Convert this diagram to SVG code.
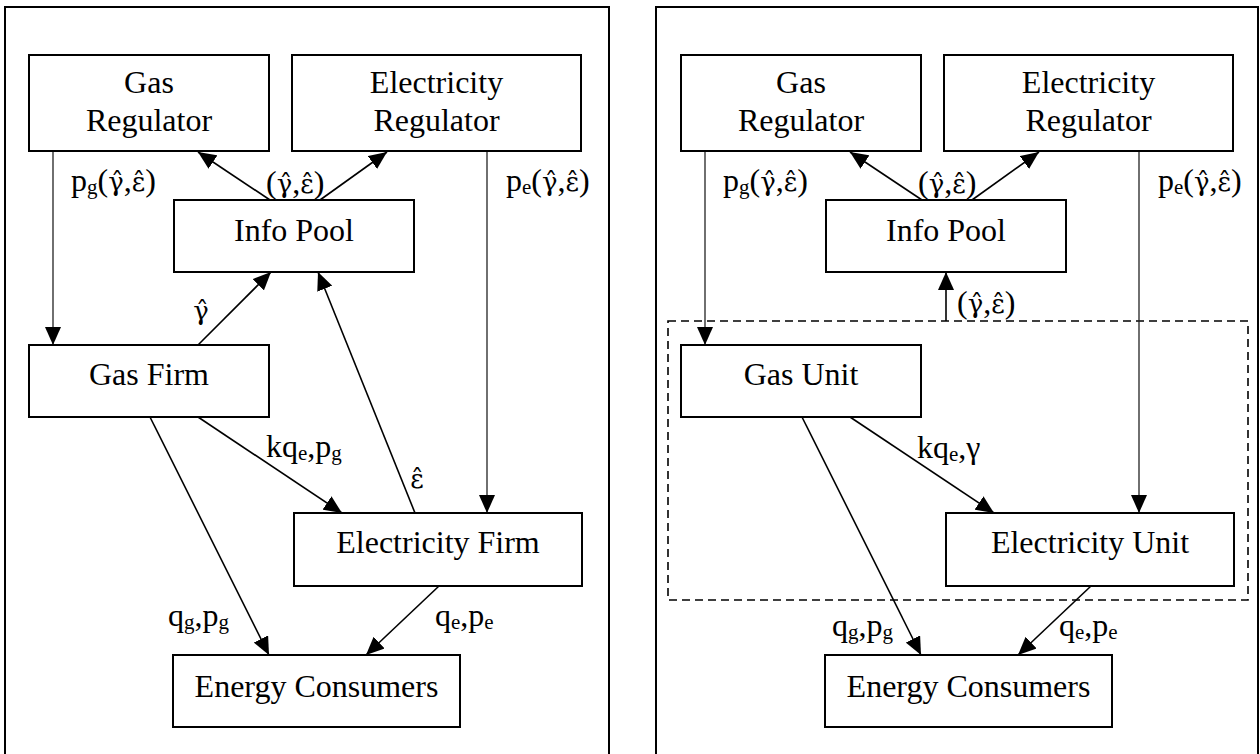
<svg xmlns="http://www.w3.org/2000/svg" width="1260" height="754" viewBox="0 0 1260 754">
<defs>
<marker id="arr" markerUnits="userSpaceOnUse" markerWidth="18" markerHeight="16" refX="18" refY="8" orient="auto">
<path d="M0,0 L18,8 L0,16 z" fill="#000"/>
</marker>
<style>
.panel{fill:none;stroke:#000;stroke-width:2}
.box{fill:#fff;stroke:#000;stroke-width:2}
.dash{fill:none;stroke:#000;stroke-width:1.6;stroke-dasharray:8 5}
.edge{fill:none;stroke:#000;stroke-width:1.6;marker-end:url(#arr)}
.vline{fill:none;stroke:#222;stroke-width:1.3;marker-end:url(#arr)}
text{font-family:"Liberation Serif","Times New Roman",serif;font-size:32px;fill:#000}
.c{text-anchor:middle}
.sub{font-size:21px}
.h{font-family:"DejaVu Serif",serif;font-size:26px}
</style>
</defs>
<rect class="panel" x="5" y="7" width="604" height="770"/>
<rect class="panel" x="656" y="7" width="602" height="770"/>
<rect id="unit-boundary" class="dash" x="668" y="321" width="580" height="279"/>

<g id="connectors">
<path class="vline" d="M53,151 L53,345"/>
<path class="edge" d="M270,200 L198,152"/>
<path class="edge" d="M320,200 L387,152"/>
<path class="vline" d="M487,151 L487,513"/>
<path class="edge" d="M198,345 L271,272"/>
<path class="edge" d="M415,513 L318,272"/>
<path class="edge" d="M198,417 L342,513"/>
<path class="edge" d="M150,417 L269,655"/>
<path class="edge" d="M439,586 L366,655"/>

<path class="vline" d="M705,151 L705,345"/>
<path class="edge" d="M922,200 L850,152"/>
<path class="edge" d="M972,200 L1039,152"/>
<path class="vline" d="M1139,151 L1139,513"/>
<path class="edge" d="M946,321 L946,272"/>
<path class="edge" d="M850,417 L994,513"/>
<path class="edge" d="M802,417 L921,655"/>
<path class="edge" d="M1091,586 L1018,655"/>

<text x="71" y="191">p<tspan class="sub" dy="3">g</tspan><tspan dy="-3">(</tspan><tspan class="h">γ̂</tspan>,<tspan class="h">ε̂</tspan>)</text>
<text x="266" y="193">(<tspan class="h">γ̂</tspan>,<tspan class="h">ε̂</tspan>)</text>
<text x="506" y="191">p<tspan class="sub" dy="3">e</tspan><tspan dy="-3">(</tspan><tspan class="h">γ̂</tspan>,<tspan class="h">ε̂</tspan>)</text>
<text class="c h" x="201" y="320">γ̂</text>
<text class="c h" x="417" y="488">ε̂</text>
<text x="266" y="457">kq<tspan class="sub" dy="3">e</tspan><tspan dy="-3">,p</tspan><tspan class="sub" dy="3">g</tspan></text>
<text x="168" y="626">q<tspan class="sub" dy="3">g</tspan><tspan dy="-3">,p</tspan><tspan class="sub" dy="3">g</tspan></text>
<text x="435" y="626">q<tspan class="sub" dy="3">e</tspan><tspan dy="-3">,p</tspan><tspan class="sub" dy="3">e</tspan></text>

<text x="723" y="191">p<tspan class="sub" dy="3">g</tspan><tspan dy="-3">(</tspan><tspan class="h">γ̂</tspan>,<tspan class="h">ε̂</tspan>)</text>
<text x="918" y="193">(<tspan class="h">γ̂</tspan>,<tspan class="h">ε̂</tspan>)</text>
<text x="1158" y="191">p<tspan class="sub" dy="3">e</tspan><tspan dy="-3">(</tspan><tspan class="h">γ̂</tspan>,<tspan class="h">ε̂</tspan>)</text>
<text x="957" y="313">(<tspan class="h">γ̂</tspan>,<tspan class="h">ε̂</tspan>)</text>
<text x="917" y="458">kq<tspan class="sub" dy="3">e</tspan><tspan dy="-3">,γ</tspan></text>
<text x="832" y="636">q<tspan class="sub" dy="3">g</tspan><tspan dy="-3">,p</tspan><tspan class="sub" dy="3">g</tspan></text>
<text x="1059" y="636">q<tspan class="sub" dy="3">e</tspan><tspan dy="-3">,p</tspan><tspan class="sub" dy="3">e</tspan></text>
</g>

<g id="gas-regulator-1"><rect class="box" x="29" y="55" width="240" height="96"/><text class="c" x="149" y="93">Gas</text><text class="c" x="149" y="131">Regulator</text></g>
<g id="electricity-regulator-1"><rect class="box" x="292" y="55" width="289" height="96"/><text class="c" x="436.5" y="93">Electricity</text><text class="c" x="436.5" y="131">Regulator</text></g>
<g id="info-pool-1"><rect class="box" x="174" y="200" width="240" height="72"/><text class="c" x="294" y="241">Info Pool</text></g>
<g id="gas-firm"><rect class="box" x="29" y="345" width="240" height="72"/><text class="c" x="149" y="385">Gas Firm</text></g>
<g id="electricity-firm"><rect class="box" x="294" y="513" width="288" height="73"/><text class="c" x="438" y="553">Electricity Firm</text></g>
<g id="energy-consumers-1"><rect class="box" x="173" y="655" width="287" height="72"/><text class="c" x="316.5" y="697">Energy Consumers</text></g>

<g id="gas-regulator-2"><rect class="box" x="681" y="55" width="240" height="96"/><text class="c" x="801" y="93">Gas</text><text class="c" x="801" y="131">Regulator</text></g>
<g id="electricity-regulator-2"><rect class="box" x="944" y="55" width="289" height="96"/><text class="c" x="1088.5" y="93">Electricity</text><text class="c" x="1088.5" y="131">Regulator</text></g>
<g id="info-pool-2"><rect class="box" x="826" y="200" width="240" height="72"/><text class="c" x="946" y="241">Info Pool</text></g>
<g id="gas-unit"><rect class="box" x="681" y="345" width="240" height="72"/><text class="c" x="801" y="385">Gas Unit</text></g>
<g id="electricity-unit"><rect class="box" x="946" y="513" width="288" height="73"/><text class="c" x="1090" y="553">Electricity Unit</text></g>
<g id="energy-consumers-2"><rect class="box" x="825" y="655" width="287" height="72"/><text class="c" x="968.5" y="697">Energy Consumers</text></g>
</svg>
